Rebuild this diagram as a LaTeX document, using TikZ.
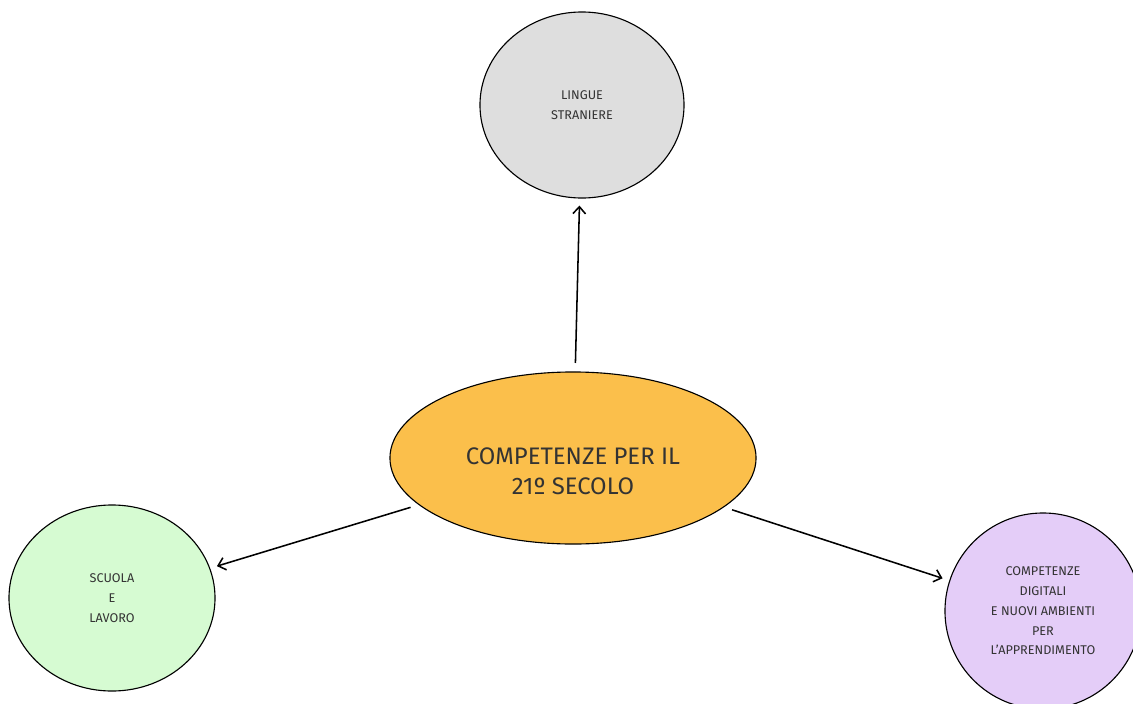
\documentclass[tikz,border=0pt]{standalone}
\usepackage{fontspec}
\setmainfont{Fira Sans}
\usetikzlibrary{arrows.meta}
\usetikzlibrary{shapes.geometric}

\definecolor{coreorange}{HTML}{FBBF4B}
\definecolor{bubblegray}{HTML}{DEDEDE}
\definecolor{bubblegreen}{HTML}{D6FBD2}
\definecolor{bubblepurple}{HTML}{E4CDF8}
\definecolor{labelgray}{HTML}{333333}

\begin{document}
\begin{tikzpicture}[x=0.025cm, y=-0.025cm,
    bubble/.style={draw, ellipse, line width=0.8pt, inner sep=0pt, align=center, text=labelgray, font=\fontsize{9}{14}\selectfont},
    link/.style={-{Straight Barb[length=5pt,width=9pt]}, line width=1.1pt, shorten <=6pt, shorten >=5pt}]

    \useasboundingbox (0,0) rectangle (1133,704);

    \node (core) [bubble, fill=coreorange, minimum width=9.15cm, minimum height=4.3cm, font=\fontsize{17}{21}\selectfont] at (573,458)
        {\raisebox{-11pt}[\height][\depth]{\begin{tabular}{@{}c@{}}COMPETENZE PER IL\\21º SECOLO\end{tabular}}};

    \node (lingue) [bubble, fill=bubblegray, minimum width=5.1cm, minimum height=4.65cm] at (582,105) {LINGUE\\STRANIERE};
    \node (scuola) [bubble, fill=bubblegreen, minimum width=5.15cm, minimum height=4.65cm] at (112,598) {SCUOLA\\E\\LAVORO};
    \node (digitali) [bubble, fill=bubblepurple, minimum width=4.9cm, minimum height=4.9cm] at (1043,611) {COMPETENZE\\DIGITALI\\E NUOVI AMBIENTI\\PER\\L'APPRENDIMENTO};

    \draw[link] (core) -- (lingue);
    \draw[link] (core) -- (scuola);
    \draw[link] (core) -- (digitali);

\end{tikzpicture}
\end{document}
